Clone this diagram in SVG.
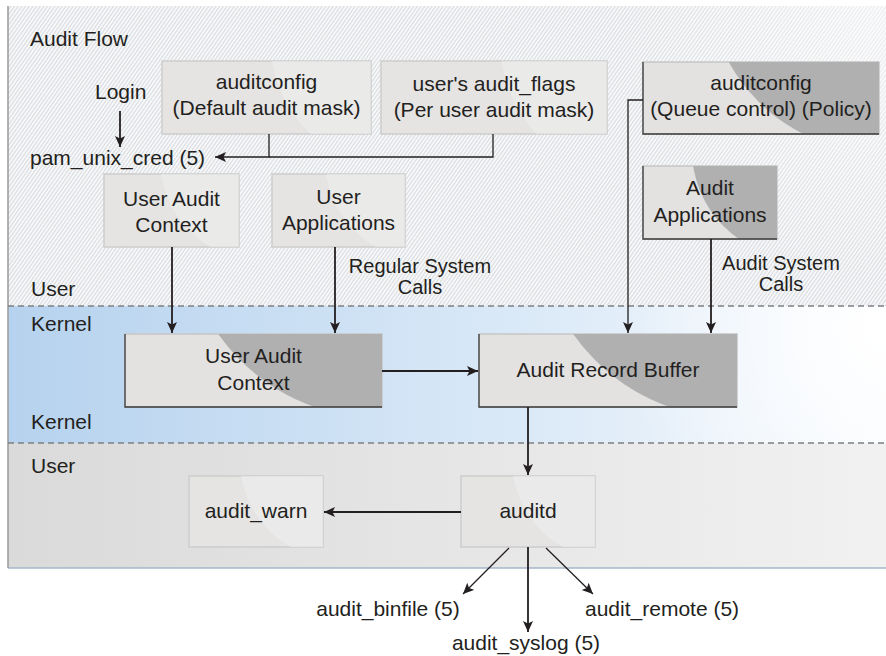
<svg xmlns="http://www.w3.org/2000/svg" width="886" height="656" viewBox="0 0 886 656">
<style>
text{font-family:"Liberation Sans",Arial,Helvetica,sans-serif;font-size:21px;fill:#231f20}
.c{text-anchor:middle}
.sm{font-size:20px}
.lb{fill:#e5e4e3;stroke:#cdcdcd;stroke-width:1.5}
.db{fill:#e3e2e1;stroke:#c6c6c6;stroke-width:1.5}
.edge{stroke:#3a3a3a;stroke-width:1.3;fill:none}
.dark{fill:#b0b0b0}
.gloss{fill:#efefef}
.conn path{fill:none;stroke:#231f20;stroke-width:1.8}
.conn path.thin{stroke-width:1.3}
.dash{stroke:#7d8083;stroke-width:1.5;stroke-dasharray:6 4}
</style>
<defs>
<marker id="ah" markerUnits="userSpaceOnUse" markerWidth="12" markerHeight="12" refX="11" refY="5" orient="auto">
<path d="M0,0 L11,5 L0,10 L2.5,5 Z" fill="#231f20"/>
</marker>
<pattern id="hatch" patternUnits="userSpaceOnUse" width="3" height="3" patternTransform="rotate(35)">
<rect width="3" height="3" fill="#f6f7f8"/>
<line x1="0" y1="0" x2="0" y2="3" stroke="#aab0b6" stroke-width="0.8"/>
</pattern>
<linearGradient id="kern" x1="0" y1="0" x2="1" y2="0">
<stop offset="0" stop-color="#b6d2ee"/>
<stop offset="0.5" stop-color="#d5e6f6"/>
<stop offset="1" stop-color="#f6f9fd"/>
</linearGradient>
<radialGradient id="kglow" cx="880" cy="330" r="260" gradientUnits="userSpaceOnUse">
<stop offset="0" stop-color="#ffffff" stop-opacity="1"/>
<stop offset="1" stop-color="#ffffff" stop-opacity="0"/>
</radialGradient>
<radialGradient id="tglow" cx="880" cy="20" r="260" gradientUnits="userSpaceOnUse">
<stop offset="0" stop-color="#ffffff" stop-opacity="0.5"/>
<stop offset="1" stop-color="#ffffff" stop-opacity="0"/>
</radialGradient>
<linearGradient id="grayg" x1="0" y1="0" x2="1" y2="0">
<stop offset="0" stop-color="#dadada"/>
<stop offset="1" stop-color="#f1f1f2"/>
</linearGradient>
<clipPath id="cQ"><rect x="643" y="62" width="236" height="72"/></clipPath>
<clipPath id="cAA"><rect x="643" y="166" width="134" height="73"/></clipPath>
<clipPath id="cUK"><rect x="125" y="334" width="257" height="73"/></clipPath>
<clipPath id="cAR"><rect x="479" y="334" width="258" height="73"/></clipPath>
<clipPath id="cD"><rect x="162" y="61" width="209" height="73"/></clipPath>
<clipPath id="cF"><rect x="381" y="61" width="226" height="73"/></clipPath>
<clipPath id="cU"><rect x="104" y="174" width="135" height="73"/></clipPath>
<clipPath id="cUA"><rect x="272" y="174" width="133" height="73"/></clipPath>
<clipPath id="cW"><rect x="189" y="476" width="134" height="71"/></clipPath>
<clipPath id="cAD"><rect x="461" y="476" width="134" height="71"/></clipPath>
</defs>

<g id="background">
<rect x="8" y="6" width="878" height="300" fill="url(#hatch)"/>
<rect x="8" y="6" width="878" height="300" fill="url(#tglow)"/>
<rect x="8" y="306" width="878" height="137" fill="url(#kern)"/>
<rect x="8" y="306" width="878" height="137" fill="url(#kglow)"/>
<rect x="8" y="443" width="878" height="125" fill="url(#grayg)"/>
<line x1="8" y1="568" x2="886" y2="568" stroke="#a4b6ca" stroke-width="1.5"/>
<line x1="8" y1="6" x2="8" y2="568" stroke="#9a9a9a" stroke-width="1.5"/>
<line x1="8" y1="306" x2="886" y2="306" class="dash"/>
<line x1="8" y1="443" x2="886" y2="443" class="dash"/>
</g>

<g id="labels">
<text x="30" y="46">Audit Flow</text>
<text x="95" y="99">Login</text>
<text x="30" y="165">pam_unix_cred (5)</text>
<text x="420" y="273" class="c sm">Regular System</text>
<text x="420" y="294" class="c sm">Calls</text>
<text x="781" y="270" class="c sm">Audit System</text>
<text x="781" y="291" class="c sm">Calls</text>
<text x="31" y="296">User</text>
<text x="31" y="331">Kernel</text>
<text x="31" y="429">Kernel</text>
<text x="31" y="473">User</text>
<text x="388" y="616" class="c">audit_binfile (5)</text>
<text x="526" y="650" class="c">audit_syslog (5)</text>
<text x="585" y="616">audit_remote (5)</text>
</g>

<g id="node-default-mask">
<rect x="162" y="61" width="209" height="73" class="lb"/>
<circle cx="400" cy="40" r="130" class="gloss" clip-path="url(#cD)" opacity="0.5"/>
<text x="266.5" y="89" class="c">auditconfig</text>
<text x="266.5" y="115" class="c">(Default audit mask)</text>
</g>

<g id="node-audit-flags">
<rect x="381" y="61" width="226" height="73" class="lb"/>
<circle cx="640" cy="40" r="140" class="gloss" clip-path="url(#cF)" opacity="0.5"/>
<text x="494" y="91" class="c">user's audit_flags</text>
<text x="494" y="117" class="c">(Per user audit mask)</text>
</g>

<g id="node-queue-control">
<rect x="643" y="62" width="236" height="72" class="db"/>
<circle cx="880" cy="-20" r="172" class="dark" clip-path="url(#cQ)"/>
<path d="M643,62 V134 H879" class="edge"/>
<text x="761" y="90" class="c">auditconfig</text>
<text x="761" y="116" class="c">(Queue control) (Policy)</text>
</g>

<g id="node-user-audit-context">
<rect x="104" y="174" width="135" height="73" class="lb"/>
<circle cx="260" cy="160" r="100" class="gloss" clip-path="url(#cU)" opacity="0.5"/>
<text x="171.5" y="206" class="c">User Audit</text>
<text x="171.5" y="232" class="c">Context</text>
</g>

<g id="node-user-applications">
<rect x="272" y="174" width="133" height="73" class="lb"/>
<circle cx="425" cy="160" r="100" class="gloss" clip-path="url(#cUA)" opacity="0.5"/>
<text x="338.5" y="204" class="c">User</text>
<text x="338.5" y="230" class="c">Applications</text>
</g>

<g id="node-audit-applications">
<rect x="643" y="166" width="134" height="73" class="db"/>
<circle cx="800" cy="150" r="108" class="dark" clip-path="url(#cAA)"/>
<path d="M643,166 V239 H777" class="edge"/>
<text x="710" y="195" class="c">Audit</text>
<text x="710" y="222" class="c">Applications</text>
</g>

<g id="node-kernel-user-audit-context">
<rect x="125" y="334" width="257" height="73" class="db"/>
<circle cx="380" cy="220" r="198" class="dark" clip-path="url(#cUK)"/>
<path d="M125,334 V407 H382" class="edge"/>
<text x="253.5" y="363" class="c">User Audit</text>
<text x="253.5" y="390" class="c">Context</text>
</g>

<g id="node-audit-record-buffer">
<rect x="479" y="334" width="258" height="73" class="db"/>
<circle cx="735" cy="220" r="198" class="dark" clip-path="url(#cAR)"/>
<path d="M479,334 V407 H737" class="edge"/>
<text x="608" y="377" class="c">Audit Record Buffer</text>
</g>

<g id="node-audit-warn">
<rect x="189" y="476" width="134" height="71" class="lb"/>
<circle cx="340" cy="460" r="100" class="gloss" clip-path="url(#cW)" opacity="0.6"/>
<text x="256" y="518" class="c">audit_warn</text>
</g>

<g id="node-auditd">
<rect x="461" y="476" width="134" height="71" class="lb"/>
<circle cx="612" cy="460" r="100" class="gloss" clip-path="url(#cAD)" opacity="0.6"/>
<text x="528" y="518" class="c">auditd</text>
</g>

<g id="connectors" class="conn">
<path d="M120,111 V147" marker-end="url(#ah)"/>
<path d="M269,134 V157 H215" marker-end="url(#ah)" class="thin"/>
<path d="M493,134 V157 H269" class="thin"/>
<path d="M643,100 H628 V333" marker-end="url(#ah)" class="thin"/>
<path d="M711,239 V333" marker-end="url(#ah)"/>
<path d="M172,247 V333" marker-end="url(#ah)"/>
<path d="M335,247 V333" marker-end="url(#ah)"/>
<path d="M382,371 H478" marker-end="url(#ah)"/>
<path d="M528,407 V475" marker-end="url(#ah)"/>
<path d="M461,512 H324" marker-end="url(#ah)"/>
<path d="M509,548 L463,594" marker-end="url(#ah)" class="thin"/>
<path d="M528,547 V632" marker-end="url(#ah)"/>
<path d="M546,548 L593,594" marker-end="url(#ah)" class="thin"/>
</g>
</svg>
